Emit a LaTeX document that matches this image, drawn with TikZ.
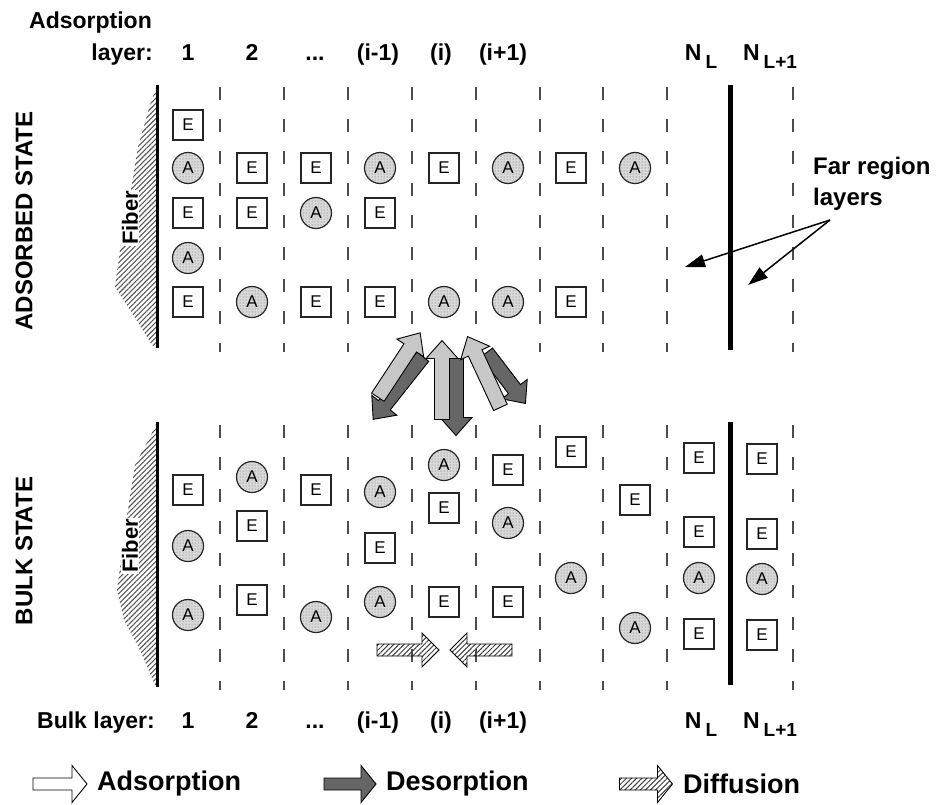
\documentclass[tikz,border=0pt]{standalone}
\usepackage{fontspec}
\setmainfont{Liberation Sans}
\usetikzlibrary{arrows.meta, patterns, patterns.meta, positioning}

\newcommand{\nsub}[1]{N\hspace{4pt}\raisebox{-8pt}{\fontsize{19}{19}\selectfont #1}}

\tikzset{
  pics/barrow/.style n args={4}{code={
    \path[pic actions] ({-#1/2},{-#2}) -- ({#1/2-#4},{-#2}) -- ({#1/2-#4},{-#3})
      -- ({#1/2},0) -- ({#1/2-#4},{#3}) -- ({#1/2-#4},{#2}) -- ({-#1/2},{#2}) -- cycle;
  }}
}

\begin{document}
\begin{tikzpicture}[x=1pt, y=-1pt,
    hdr/.style={font=\fontsize{23}{26}\selectfont\bfseries, inner sep=0pt},
    state/.style={font=\fontsize{24}{26}\selectfont\bfseries, rotate=90, inner sep=0pt},
    fibertxt/.style={font=\fontsize{22}{24}\selectfont\bfseries, rotate=90, fill=white, inner sep=1pt},
    legtxt/.style={font=\fontsize{27}{30}\selectfont\bfseries, anchor=west, inner sep=0pt},
    ebox/.style={rectangle, draw=black!85, line width=1.3pt, fill=white, minimum size=30pt, inner sep=0pt, font=\fontsize{17}{17}\selectfont},
    amol/.style={circle, draw=black!85, line width=1.2pt, preaction={fill=gray!30}, pattern=dots, pattern color=black!60, minimum size=31pt, inner sep=0pt, font=\fontsize{17}{17}\selectfont},
    layerline/.style={line width=2pt, black!70, dash pattern=on 13pt off 19pt},
    wall/.style={line width=5pt},
    fiberwall/.style={line width=3pt},
    hatch/.style={pattern={Lines[angle=45, distance=3.6pt, line width=1.1pt]}, pattern color=black!65},
    ads/.style={draw, line width=0.9pt, fill=black!22},
    des/.style={draw, line width=0.9pt, fill=black!60},
    diff/.style={draw, line width=0.9pt, preaction={fill=white}, pattern={Lines[angle=45, distance=3.6pt, line width=1pt]}, pattern color=black!75},
    pointer/.style={line width=1.5pt, -{Triangle[length=20pt, width=13pt]}}
]
\useasboundingbox (0,0) rectangle (941,804);

% Fiber surfaces
\fill[hatch] (157,85) -- (150,105) -- (138,147) -- (131,190) -- (120,250) -- (115,287)
  -- (132,313) -- (152,345) -- (157,348) -- cycle;
\fill[hatch] (157,422) -- (150,437) -- (135,465) -- (127,515) -- (117,590) -- (124,620)
  -- (140,650) -- (155,685) -- (157,687) -- cycle;
\draw[fiberwall] (157,85) -- (157,348);
\draw[fiberwall] (157,422) -- (157,687);
\node[fibertxt] (fib1) at (130,218) {Fiber};
\node[fibertxt] (fib2) at (130,546) {Fiber};

% Layer boundaries
\foreach \x in {220,284,348,412,476,540,603,667,793} {
  \draw[layerline] (\x,87) -- (\x,352);
  \draw[layerline] (\x,425) -- (\x,690);
}
\draw[wall] (730,85) -- (730,350);
\draw[wall] (730,422) -- (730,685);

% State labels
\node[state] (adsst) at (24,221) {ADSORBED STATE};
\node[state] (bulkst) at (24,551) {BULK STATE};

% Header: adsorption layers
\node[hdr, anchor=base east] (adsl) at (152,28) {Adsorption};
\node[hdr, anchor=base east] (layl) at (153,60) {layer:};
\node[hdr, anchor=base] (adots) at (315,60) {...};
\foreach \x/\t [count=\k] in {188/1, 252/2, 378/{(i-1)}, 441/{(i)}, 503/{(i+1)}, 701/{\nsub{L}}, 770/{\nsub{L+1}}}
  \node[hdr, anchor=base] (ah\k) at (\x,60) {\t};

% Footer: bulk layers
\node[hdr, anchor=base east] (bulkl) at (155,728) {Bulk layer:};
\node[hdr, anchor=base] (bdots) at (315,728) {...};
\foreach \x/\t [count=\k] in {188/1, 252/2, 378/{(i-1)}, 441/{(i)}, 503/{(i+1)}, 701/{\nsub{L}}, 770/{\nsub{L+1}}}
  \node[hdr, anchor=base] (bh\k) at (\x,728) {\t};

% Adsorbed state
\foreach \x/\y [count=\k] in {188/125, 188/213, 188/302, 252/168, 252/213, 316/168, 316/302,
    380/213, 380/302, 444/168, 571/168, 571/302}
  \node[ebox] (tE\k) at (\x,\y) {E};
\foreach \x/\y [count=\k] in {188/168, 188/258, 252/302, 316/213, 380/168, 444/302, 508/168,
    508/302, 635/168}
  \node[amol] (tA\k) at (\x,\y) {A};

% Bulk state
\foreach \x/\y [count=\k] in {188/490, 252/526, 252/600, 316/490, 380/548, 444/508, 444/602,
    508/470, 508/602, 571/452, 635/500, 699/458, 699/532, 699/634, 762/459, 762/534, 762/635}
  \node[ebox] (bE\k) at (\x,\y) {E};
\foreach \x/\y [count=\k] in {188/546, 188/615, 252/477, 316/617, 380/492, 380/602, 444/465,
    508/523, 571/578, 635/628, 699/578, 762/579}
  \node[amol] (bA\k) at (\x,\y) {A};

% Exchange between states
\pic[des, rotate=231.6] (d1) at (398,388) {barrow={80}{7.5}{16}{18}};
\pic[ads, rotate=56.7] (a1) at (399,365) {barrow={77}{7.5}{16}{18}};
\pic[des, rotate=270] (d2) at (456,397) {barrow={77}{7.5}{16}{18}};
\pic[ads, rotate=90] (a2) at (442,380) {barrow={79}{7.5}{16}{18}};
\pic[des, rotate=-52.6] (d3) at (506,378) {barrow={64}{7.5}{16}{18}};
\pic[ads, rotate=114.9] (a3) at (484,372) {barrow={78}{7.5}{16}{18}};

% Diffusion between bulk layers
\pic[diff] (dfr) at (408,650) {barrow={62}{6}{17}{17}};
\pic[diff, rotate=180] (dfl) at (481,650) {barrow={62}{6}{17}{17}};

% Far region
\node[font=\fontsize{24}{31}\selectfont\bfseries, align=left, anchor=west, inner sep=0pt] (far) at (813,184) {Far region\\layers};
\coordinate (farpt) at (830,220);
\coordinate (tipA) at (685,267);
\coordinate (tipB) at (748,285);
\draw[pointer] (farpt) -- (tipA);
\draw[pointer] (farpt) -- (tipB);

% Legend
\pic[ads, fill=white] (lga) at (60,784) {barrow={54}{6}{18.5}{15}};
\node[legtxt] (lgat) at (97,784) {Adsorption};
\pic[des] (lgd) at (350,784) {barrow={52}{6}{18.5}{15}};
\node[legtxt] (lgdt) at (386,784) {Desorption};
\pic[diff] (lgf) at (646,784) {barrow={53}{6}{18.5}{15}};
\node[legtxt] (lgft) at (683,784) {Diffusion};
\end{tikzpicture}
\end{document}
